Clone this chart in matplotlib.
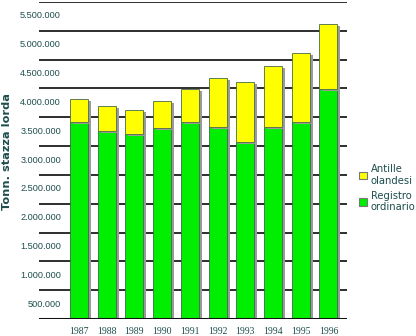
import numpy as np
import matplotlib.pyplot as plt
import matplotlib.patheffects as pe
from matplotlib.patches import Patch
from matplotlib.transforms import ScaledTranslation

# values (gross tonnage)
years = ["1987", "1988", "1989", "1990", "1991", "1992", "1993", "1994", "1995", "1996"]
registro = [3420000, 3260000, 3210000, 3320000, 3420000, 3330000, 3070000, 3330000, 3420000, 3990000]
antille = [400000, 440000, 420000, 460000, 570000, 850000, 1040000, 1060000, 1200000, 1130000]

yticks = np.arange(0, 5500001, 500000)
ytick_labels = ["" if v == 0 else f"{v:,}".replace(",", ".") for v in yticks]

cGREEN = "#00EE00"
cYELLOW = "#FFFF00"
cTEXT = "#1d4d4d"

fig = plt.figure(figsize=(4.16, 3.36), dpi=100)
ax = fig.add_axes([39 / 416, 17 / 336, 308 / 416, 317 / 336])

x = np.arange(len(years))
shadow = [pe.SimplePatchShadow(offset=(2.2, -1.5), shadow_rgbFace="#9a9a9a", alpha=1.0), pe.Normal()]

b1 = ax.bar(x, registro, width=0.65, color=cGREEN, edgecolor="#3a6a4a", linewidth=0.6, zorder=3)
b2 = ax.bar(x, antille, width=0.65, bottom=registro, color=cYELLOW, edgecolor="#4a6a4a", linewidth=0.6, zorder=3)
for r1, r2 in zip(b1, b2):
    r1.set_path_effects(shadow)
    r2.set_path_effects(shadow)

ax.set_xlim(-1.44, 9.67)
ax.set_ylim(0, 5500000)

ax.set_axisbelow(True)
ax.yaxis.grid(True, color="#2e2e2e", linewidth=1.4)
ax.axhline(0, color="#111111", linewidth=2.2, zorder=4,
           path_effects=[pe.SimpleLineShadow(offset=(1, -1.5), shadow_color="#aaaaaa", alpha=1), pe.Normal()])

for s in ax.spines.values():
    s.set_visible(False)

ax.set_xticks(x)
ax.set_xticklabels(years, fontsize=7, family="Liberation Serif", color=cTEXT)
ax.tick_params(axis="x", length=0, pad=6)

ax.set_yticks(yticks)
ax.set_yticklabels(ytick_labels, fontsize=6.6, family="Liberation Sans", color=cTEXT)
ax.tick_params(axis="y", length=0, pad=0)
# labels sit between the grid lines, shifted right and down
off = ScaledTranslation(22 / 100, -13 / 100, fig.dpi_scale_trans)
for lab in ax.get_yticklabels():
    lab.set_transform(lab.get_transform() + off)

fig.text(7 / 416, 1 - 151 / 336, "Tonn. stazza lorda", rotation=90, ha="center", va="center",
         fontsize=8.2, fontweight="bold", color=cTEXT, family="DejaVu Sans")

handles = [Patch(facecolor=cYELLOW, edgecolor="#777777", linewidth=0.8),
           Patch(facecolor=cGREEN, edgecolor="#777777", linewidth=0.8)]
fig.legend(handles, ["Antille\nolandesi", "Registro\nordinario"], loc="upper left",
           bbox_to_anchor=(355 / 416, 1 - 160 / 336), frameon=False, fontsize=7.2,
           handlelength=0.75, handleheight=0.75, handletextpad=0.4, labelspacing=0.5,
           labelcolor=cTEXT, borderaxespad=0)

fig.savefig("out.png", dpi=100)
